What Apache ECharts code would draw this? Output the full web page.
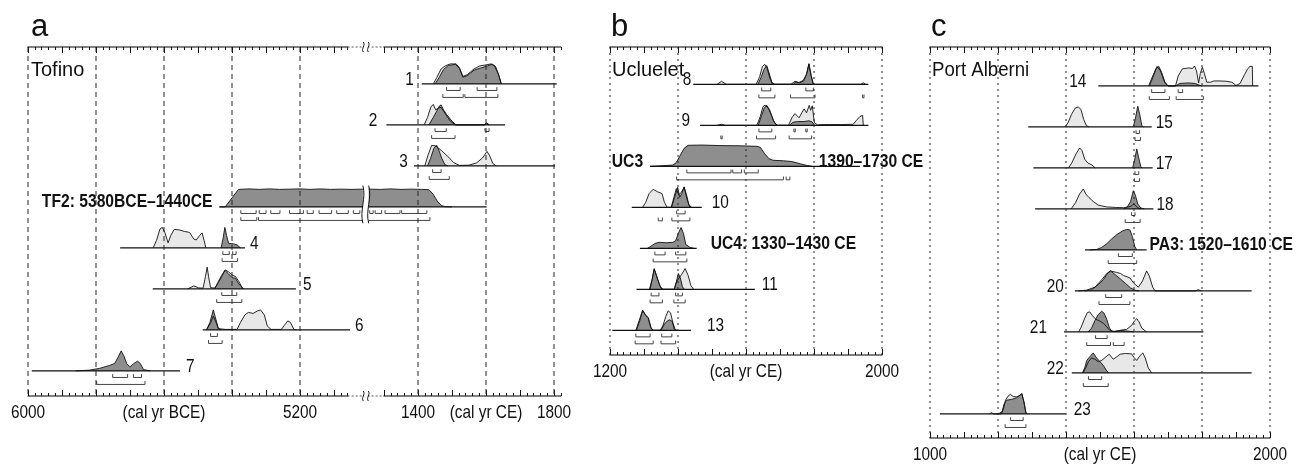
<!DOCTYPE html>
<html>
<head>
<meta charset="utf-8">
<title>Calibrated ages</title>
<script src="https://cdn.jsdelivr.net/npm/echarts@6/dist/echarts.min.js"></script>
<style>
html, body { margin: 0; padding: 0; background: #fff; }
#main { width: 1296px; height: 464px; }
</style>
</head>
<body>
<div id="main"></div>
<script>
// ---------- a: Tofino (BCE years are negative) ----------
const tofinoLeftLabels = ['1', '2', '3', 'TF2: 5380BCE–1440CE', '', '', '', ''];
const tofinoRightLabels = ['', '', '', '', '4', '5', '6', '7'];
const tofinoSpans = [[1411, 1808], [1307, 1656], [1388, 1803], [-5437, 1602],
  [-5729, -5362], [-5633, -5212], [-5486, -5053], [-5989, -5553]];
const tofinoLight = [
  [[1445,0],[1455,0.25],[1468,0.6],[1480,0.72],[1495,0.8],[1512,0.8],[1522,0.65],[1532,0.3],[1545,0.37],[1565,0.6],[1582,0.72],[1600,0.76],[1615,0.8],[1625,0.72],[1636,0.4],[1645,0]],
  [[1418,0],[1428,0.3],[1438,0.72],[1445,0.82],[1452,0.6],[1460,0.68],[1468,0.7],[1480,0.45],[1495,0.15],[1510,0],[1594,0],[1602,0.08],[1610,0]],
  [[1420,0],[1430,0.45],[1440,0.82],[1452,0.8],[1470,0.6],[1490,0.35],[1505,0.13],[1522,0.02],[1550,0.03],[1572,0.12],[1590,0.32],[1603,0.58],[1611,0.4],[1620,0.1],[1630,0]],
  [],
  [[-5632,0],[-5622,0.3],[-5612,0.75],[-5605,0.82],[-5597,0.6],[-5588,0.2],[-5580,0.5],[-5570,0.74],[-5555,0.72],[-5540,0.66],[-5525,0.62],[-5512,0.35],[-5505,0.32],[-5495,0.5],[-5488,0.6],[-5482,0.3],[-5477,0]],
  [[-5530,0],[-5512,0.12],[-5498,0.04],[-5485,0.03],[-5478,0.5],[-5473,0.87],[-5469,0.5],[-5463,0.05],[-5450,0.03],[-5440,0.3],[-5430,0.55],[-5420,0.76],[-5410,0.68],[-5400,0.55],[-5390,0.5],[-5380,0.3],[-5368,0]],
  [[-5475,0],[-5462,0.3],[-5455,0.55],[-5447,0.3],[-5440,0.05],[-5420,0.02],[-5385,0.02],[-5375,0.3],[-5362,0.6],[-5352,0.7],[-5338,0.66],[-5325,0.76],[-5316,0.8],[-5305,0.6],[-5296,0.15],[-5285,0.02],[-5255,0.02],[-5245,0.2],[-5236,0.36],[-5228,0.3],[-5218,0.02],[-5210,0]],
  []
];
const tofinoDark = [
  [[1450,0],[1462,0.25],[1475,0.58],[1490,0.74],[1510,0.78],[1522,0.62],[1532,0.27],[1545,0.33],[1565,0.55],[1585,0.64],[1605,0.72],[1618,0.79],[1628,0.7],[1637,0.38],[1645,0]],
  [[1432,0],[1445,0.3],[1455,0.55],[1463,0.76],[1468,0.8],[1475,0.6],[1485,0.4],[1500,0.15],[1512,0],[1596,0],[1602,0.06],[1608,0]],
  [[1428,0],[1437,0.3],[1447,0.72],[1455,0.82],[1462,0.6],[1470,0.3],[1479,0.05],[1488,0]],
  [[-5437,0],[-5420,0],[-5381,0.7],[-5350,0.72],[-5320,0.7],[-5290,0.72],[-5260,0.7],[-5230,0.71],[-5200,0.72],[-5170,0.7],[-5140,0.72],[-5110,0.7],[-5080,0.71],[-5050,0.7],[-5015,0.71],
   [1255,0.71],[1290,0.7],[1320,0.72],[1350,0.7],[1380,0.71],[1410,0.7],[1432,0.69],[1445,0.5],[1458,0.2],[1470,0.05],[1480,0.01],[1500,0]],
  [[-5432,0],[-5426,0.4],[-5421,0.82],[-5416,0.5],[-5410,0.18],[-5395,0.16],[-5385,0.12],[-5375,0]],
  [[-5452,0],[-5440,0.25],[-5430,0.5],[-5421,0.74],[-5410,0.6],[-5400,0.45],[-5390,0.43],[-5380,0.2],[-5366,0]],
  [[-5475,0],[-5465,0.3],[-5455,0.8],[-5447,0.4],[-5440,0.05],[-5432,0]],
  [[-5860,0],[-5820,0.03],[-5790,0.1],[-5760,0.22],[-5745,0.3],[-5735,0.55],[-5726,0.8],[-5718,0.6],[-5710,0.3],[-5700,0.16],[-5690,0.28],[-5678,0.39],[-5670,0.3],[-5660,0.05],[-5640,0]]
];
const tofinoHpd68 = [
  [[1484,1524],[1574,1632]], [[1450,1483],[1597,1609]], [[1443,1468]],
  [[-5374,-5329],[-5320,-5300],[-5286,-5259],[-5231,-5190],[-5179,-5161],[-5144,-5107],[-5092,-5058],[-5043,-5024],[1258,1268],[1274,1293],[1303,1347],[1352,1426]],
  [[-5427,-5408],[-5398,-5388]], [[-5430,-5386]], [[-5463,-5443]], [[-5751,-5707],[-5690,-5666]]
];
const tofinoHpd95 = [
  [[1473,1533],[1538,1635]], [[1440,1509]], [[1433,1492]],
  [[-5374,-5327],[-5322,1435]],
  [[-5429,-5384]], [[-5445,-5371]], [[-5469,-5429]], [[-5798,-5656]]
];
const tofinoBceTicks = [-6000, -5600, -5200];
const tofinoBceText = ['6000', '(cal yr BCE)', '5200'];
const tofinoCeTicks = [1400, 1600, 1800];
const tofinoCeText = ['1400', '(cal yr CE)', '1800'];
const tofinoBceGrid = [-6000, -5800, -5600, -5400, -5200];
const tofinoCeGrid = [1400, 1600, 1800];

// ---------- b: Ucluelet ----------
const ucLeftLabels = ['8', '9', 'UC3', '', '', '', ''];
const ucRightLabels = ['', '', '1390–1730 CE', '10', 'UC4: 1330–1430 CE', '11', '13'];
const ucSpans = [[1445, 1960], [1465, 1960], [1318, 1935], [1264, 1470], [1288, 1455], [1278, 1626], [1207, 1438]];
const ucLight = [
  [[1515,0],[1528,0.12],[1542,0],[1630,0],[1640,0.3],[1648,0.7],[1655,0.8],[1662,0.65],[1670,0.25],[1678,0],[1732,0],[1744,0.12],[1755,0.07],[1768,0.15],[1778,0.4],[1785,0.82],[1792,0.35],[1798,0],[1938,0],[1945,0.06],[1952,0]],
  [[1515,0],[1528,0.04],[1540,0],[1632,0],[1642,0.35],[1650,0.75],[1656,0.8],[1665,0.7],[1675,0.4],[1684,0.1],[1692,0],[1725,0],[1735,0.3],[1744,0.47],[1756,0.3],[1764,0.5],[1771,0.66],[1778,0.5],[1786,0.8],[1790,0.6],[1795,0.78],[1801,0.1],[1810,0.02],[1830,0.03],[1880,0.03],[1915,0.04],[1925,0.2],[1935,0.35],[1943,0.4],[1945,0]],
  [],
  [[1296,0],[1305,0.2],[1315,0.55],[1327,0.72],[1340,0.62],[1353,0.55],[1360,0.2],[1368,0],[1380,0],[1388,0.4],[1395,0.75],[1402,0.5],[1410,0.6],[1418,0.8],[1427,0.3],[1435,0]],
  [],
  [[1316,0],[1324,0.4],[1330,0.8],[1340,0.4],[1350,0.05],[1357,0],[1389,0],[1396,0.3],[1403,0.45],[1411,0.6],[1421,0.83],[1430,0.55],[1438,0.15],[1446,0]],
  [[1276,0],[1286,0.4],[1296,0.8],[1305,0.6],[1313,0.5],[1321,0.1],[1327,0],[1348,0],[1356,0.2],[1364,0.55],[1371,0.78],[1378,0.7],[1385,0.3],[1392,0.02],[1397,0]]
];
const ucDark = [
  [[1635,0],[1645,0.3],[1653,0.6],[1661,0.75],[1668,0.45],[1676,0.08],[1684,0],[1740,0],[1746,0.1],[1758,0.06],[1770,0.14],[1779,0.45],[1785,0.82],[1791,0.35],[1798,0]],
  [[1636,0],[1646,0.4],[1654,0.7],[1661,0.8],[1670,0.6],[1680,0.2],[1690,0],[1728,0],[1738,0.12],[1752,0.15],[1770,0.15],[1785,0.18],[1794,0.14],[1802,0]],
  [[1318,0],[1350,0.02],[1385,0.05],[1395,0.15],[1405,0.4],[1418,0.72],[1430,0.84],[1470,0.85],[1520,0.83],[1580,0.82],[1632,0.8],[1642,0.76],[1655,0.5],[1668,0.3],[1680,0.24],[1710,0.22],[1735,0.19],[1760,0.1],[1780,0.03],[1795,0]],
  [[1381,0],[1390,0.4],[1399,0.8],[1405,0.4],[1411,0.55],[1418,0.82],[1425,0.5],[1432,0.1],[1440,0]],
  [[1310,0],[1320,0.08],[1333,0.2],[1345,0.24],[1365,0.22],[1385,0.24],[1393,0.3],[1401,0.6],[1409,0.83],[1416,0.6],[1423,0.15],[1435,0.04],[1447,0]],
  [[1318,0],[1324,0.4],[1330,0.83],[1337,0.55],[1346,0.15],[1354,0],[1389,0],[1395,0.3],[1401,0.63],[1407,0.45],[1413,0.1],[1419,0]],
  [[1278,0],[1288,0.4],[1296,0.8],[1304,0.62],[1312,0.5],[1320,0.1],[1326,0],[1350,0],[1360,0.25],[1369,0.38],[1376,0.42],[1383,0.35],[1389,0.05],[1395,0]]
];
const ucHpd68 = [
  [[1646,1673],[1776,1798]], [[1638,1676],[1741,1745],[1776,1780]], [[1426,1556],[1561,1587],[1595,1636]],
  [[1396,1421]], [[1332,1362],[1393,1423]], [[1321,1344],[1393,1413]], [[1276,1318],[1352,1382]]
];
const ucHpd95 = [
  [[1638,1685],[1731,1803],[1943,1947]], [[1526,1530],[1631,1687],[1727,1793]], [[1396,1710],[1718,1729]],
  [[1342,1354],[1382,1435]], [[1327,1426]], [[1318,1354],[1388,1421]], [[1274,1327],[1350,1393]]
];
const ucTicks = [1200, 1600, 2000];
const ucTickText = ['1200', '(cal yr CE)', '2000'];
const ucGrid = [1200, 1400, 1600, 1800, 2000];

// ---------- c: Port Alberni ----------
const paLeftLabels = ['14', '', '', '', '', '20', '21', '22', ''];
const paRightLabels = ['', '15', '17', '18', 'PA3: 1520–1610 CE', '', '', '', '23'];
const paSpans = [[1495, 1966], [1289, 1652], [1304, 1655], [1309, 1657], [1456, 1637],
  [1426, 1946], [1394, 1804], [1417, 1946], [1029, 1399]];
const paLight = [
  [[1643,0],[1655,0.4],[1668,0.78],[1678,0.6],[1690,0.15],[1700,0],[1722,0],[1730,0.4],[1742,0.68],[1760,0.72],[1772,0.7],[1778,0.8],[1784,0.6],[1790,0.12],[1795,0.5],[1801,0.75],[1807,0.5],[1814,0.15],[1825,0.15],[1835,0.2],[1850,0.2],[1870,0.19],[1888,0.15],[1900,0.02],[1912,0.1],[1925,0.45],[1935,0.7],[1941,0.78],[1948,0.78],[1949,0]],
  [[1398,0],[1407,0.2],[1416,0.5],[1427,0.75],[1436,0.8],[1444,0.7],[1452,0.3],[1460,0.05],[1468,0]],
  [[1407,0],[1417,0.2],[1429,0.55],[1440,0.8],[1447,0.7],[1455,0.35],[1464,0.2],[1476,0.12],[1486,0]],
  [[1415,0],[1428,0.25],[1440,0.6],[1451,0.8],[1458,0.6],[1468,0.45],[1480,0.3],[1495,0.15],[1520,0.08],[1545,0.06],[1570,0.05],[1590,0.1],[1600,0.2],[1610,0.05],[1620,0]],
  [],
  [[1436,0],[1460,0.03],[1485,0.15],[1505,0.45],[1520,0.7],[1531,0.8],[1549,0.74],[1560,0.7],[1569,0.62],[1588,0.52],[1600,0.3],[1613,0.15],[1625,0.4],[1637,0.8],[1645,0.6],[1655,0.15],[1662,0],[1780,0],[1789,0.05],[1798,0]],
  [[1437,0],[1445,0.2],[1455,0.55],[1463,0.78],[1470,0.8],[1478,0.65],[1488,0.5],[1498,0.45],[1510,0.35],[1520,0.2],[1530,0.05],[1540,0.02],[1555,0.05],[1565,0.08],[1578,0.1],[1592,0.25],[1602,0.45],[1608,0.53],[1615,0.4],[1623,0.15],[1637,0]],
  [[1450,0],[1458,0.2],[1466,0.45],[1475,0.6],[1485,0.55],[1495,0.45],[1505,0.5],[1518,0.65],[1527,0.75],[1539,0.55],[1550,0.65],[1559,0.75],[1575,0.78],[1593,0.76],[1600,0.62],[1608,0.5],[1618,0.7],[1626,0.8],[1633,0.6],[1642,0.2],[1652,0]],
  [[1175,0],[1181,0.05],[1187,0],[1210,0],[1216,0.2],[1222,0.55],[1230,0.72],[1236,0.78],[1245,0.7],[1255,0.68],[1265,0.75],[1270,0.8],[1276,0.5],[1282,0.05],[1286,0]]
];
const paDark = [
  [[1645,0],[1656,0.35],[1665,0.7],[1673,0.78],[1681,0.55],[1691,0.15],[1700,0],[1722,0],[1735,0.1],[1760,0.12],[1780,0.1],[1792,0.03],[1800,0]],
  [[1598,0],[1605,0.4],[1611,0.83],[1617,0.5],[1623,0.05],[1628,0]],
  [[1596,0],[1603,0.4],[1608,0.76],[1614,0.4],[1620,0.05],[1624,0]],
  [[1570,0],[1580,0.08],[1590,0.3],[1598,0.73],[1604,0.55],[1611,0.2],[1620,0.04],[1630,0]],
  [[1470,0],[1490,0.02],[1505,0.1],[1520,0.25],[1535,0.45],[1550,0.62],[1565,0.75],[1578,0.82],[1588,0.8],[1596,0.5],[1602,0.15],[1608,0]],
  [[1455,0],[1475,0.05],[1495,0.25],[1510,0.45],[1522,0.7],[1531,0.8],[1545,0.65],[1560,0.48],[1575,0.3],[1590,0.12],[1605,0.02],[1615,0]],
  [[1465,0],[1475,0.15],[1485,0.45],[1495,0.7],[1505,0.83],[1512,0.75],[1520,0.5],[1528,0.15],[1535,0.03],[1545,0.02],[1560,0.06],[1575,0.04],[1590,0.02],[1600,0]],
  [[1448,0],[1455,0.2],[1461,0.5],[1470,0.65],[1480,0.8],[1490,0.6],[1500,0.45],[1510,0.3],[1518,0.12],[1525,0]],
  [[1195,0],[1205,0.03],[1212,0.1],[1218,0.4],[1225,0.55],[1240,0.58],[1255,0.65],[1265,0.75],[1270,0.82],[1276,0.5],[1282,0.05],[1286,0]]
];
const paHpd68 = [
  [[1652,1691],[1730,1743]], [[1606,1616]], [[1603,1614]], [[1593,1603]], [[1554,1595]],
  [[1517,1564]], [[1487,1521]], [[1466,1505]], [[1237,1274]]
];
const paHpd95 = [
  [[1645,1704],[1724,1804]], [[1603,1619]], [[1601,1616]], [[1574,1618]], [[1524,1608]],
  [[1497,1588]], [[1461,1531],[1539,1571]], [[1451,1524]], [[1221,1282]]
];
const paTicks = [1000, 1500, 2000];
const paTickText = ['1000', '(cal yr CE)', '2000'];
const paGrid = [1000, 1200, 1400, 1600, 1800, 2000];

// ---------- layout ----------
const SANS = '"Liberation Sans", Arial, sans-serif';
const INK = '#111';
const AXIS = '#555';
const LIGHT = '#e8e8e8';
const DARK = '#8e8e8e';
const NARROW_X = 0.81;        // horizontal squeeze for the condensed lettering
const BOLD_X = 0.87;
const H = 25 / 41;            // row units per unit of density
const HPD_Y = [0.16, 0.33];   // bracket levels below the baseline
const HPD_TICK = 0.08;
const LABEL_LIFT = 0.11;
const BREAK_L = -5015, BREAK_R = 1255;   // where TF2 is cut by the axis break
const LABEL_GAP = {'1': 8, '2': 9, '3': 6, '4': 5, '5': 7, '6': 5, '7': 6, '8': 2, '9': 10, '10': 10,
  'UC4: 1330–1430 CE': 14, '11': 7, '13': 16, '14': 12, '15': 4, '17': 3, '18': 3,
  'PA3: 1520–1610 CE': 3, '20': 11, '21': 17, '22': 8, '23': 8};

const GRIDS = [
  {left: 28, top: 47, width: 319.6, height: 349},
  {left: 384, top: 47, width: 176.8, height: 349},
  {left: 610, top: 47, width: 272, height: 308},
  {left: 930, top: 47, width: 340, height: 391}
];
const X_RANGE = [[-6000, -5060], [1300, 1820], [1200, 2000], [1000, 2000]];
const Y_MAX = [349 / 41, 349 / 41, 308 / 41, 391 / 41];
const TICKS = [[tofinoBceTicks, tofinoBceText], [tofinoCeTicks, tofinoCeText], [ucTicks, ucTickText], [paTicks, paTickText]];

const tofino = {offset: 0.9, left: tofinoLeftLabels, right: tofinoRightLabels, spans: tofinoSpans,
  light: tofinoLight, dark: tofinoDark, hpd68: tofinoHpd68, hpd95: tofinoHpd95, noteAt: {}};
const ucluelet = {offset: 0.91, left: ucLeftLabels, right: ucRightLabels, spans: ucSpans,
  light: ucLight, dark: ucDark, hpd68: ucHpd68, hpd95: ucHpd95, noteAt: {2: 1814}};
const portAlberni = {offset: 0.95, left: paLeftLabels, right: paRightLabels, spans: paSpans,
  light: paLight, dark: paDark, hpd68: paHpd68, hpd95: paHpd95, noteAt: {}};

function axesFor(g) {
  const [min, max] = X_RANGE[g];
  const major = [];
  for (let v = Math.ceil(min / 100) * 100; v <= max; v += 100) major.push(v);
  const base = {gridIndex: g, type: 'value', min: min, max: max, splitLine: {show: false}, axisLabel: {show: false}};
  const line = {show: true, onZero: false, lineStyle: {color: AXIS, width: 1.5}};
  const tickStyle = {color: INK, width: 1};
  return [
    Object.assign({}, base, {position: 'bottom', interval: 20, axisLine: line,
      axisTick: {inside: true, length: 3, lineStyle: tickStyle}}),
    Object.assign({}, base, {position: 'bottom', axisLine: {show: false, onZero: false},
      axisTick: {inside: true, length: 6, customValues: major, lineStyle: tickStyle}}),
    Object.assign({}, base, {position: 'top', interval: 20, axisLine: line,
      axisTick: {inside: true, length: 3, lineStyle: tickStyle}}),
    Object.assign({}, base, {position: 'top', axisLine: {show: false, onZero: false},
      axisTick: {inside: true, length: 6, customValues: major, lineStyle: tickStyle}})
  ];
}

// condensed text: drawn at its anchor, squeezed horizontally about it
function textEl(x, y, text, align, bold) {
  return {type: 'text', x: x, y: y, scaleX: bold ? BOLD_X : NARROW_X,
    style: {x: 0, y: 0, text: text, fill: INK,
      font: (bold ? 'bold 18px ' : '19px ') + SANS,
      align: align, verticalAlign: 'middle', textAlign: align, textVerticalAlign: 'middle'}};
}

function squiggle(x, ya, yb) {
  const h = yb - ya;
  return {type: 'bezierCurve', shape: {x1: x, y1: ya, x2: x, y2: yb,
    cpx1: x + 3.5, cpy1: ya + h * 0.35, cpx2: x - 3.5, cpy2: ya + h * 0.65},
    style: {stroke: INK, lineWidth: 1, fill: null}};
}

function rowSeries(p, g, side) {
  const idx = p.spans.map((s, i) => i).filter(i =>
    side === 'A' || (side === 'L' ? p.spans[i][0] < 0 : p.spans[i][1] > 0));
  return {
    type: 'custom', xAxisIndex: g * 4, yAxisIndex: g, z: 2, silent: true, clip: false,
    data: idx.map(i => [i, i]),
    renderItem: function (params, api) {
      const i = idx[params.dataIndex];
      const y0 = p.offset + i;
      const keep = x => side === 'A' || (side === 'L' ? x < 0 : x > 0);
      const pt = (x, y) => api.coord([x, y]);
      const baseY = pt(X_RANGE[g][0], y0)[1];
      const kids = [];
      const curve = pts => pts.filter(q => keep(q[0])).map(q => pt(q[0], y0 - q[1] * H));
      const area = (pts, fill) => {
        const c = curve(pts);
        if (c.length < 2) return;
        kids.push({type: 'polygon', shape: {points: [[c[0][0], baseY]].concat(c, [[c[c.length - 1][0], baseY]])},
          style: {fill: fill, stroke: null}});
      };
      const outline = pts => {
        const c = curve(pts);
        if (c.length < 2) return;
        kids.push({type: 'polyline', shape: {points: c}, style: {stroke: INK, lineWidth: 0.9, fill: null}});
      };
      area(p.light[i], LIGHT);
      area(p.dark[i], DARK);
      outline(p.light[i]);
      outline(p.dark[i]);

      // baseline, cut at the axis break where needed
      let s0 = p.spans[i][0], s1 = p.spans[i][1];
      if (side === 'L' && s1 > 0) s1 = BREAK_L;
      if (side === 'R' && s0 < 0) s0 = BREAK_R;
      kids.push({type: 'line', shape: {x1: pt(s0, y0)[0], y1: baseY, x2: pt(s1, y0)[0], y2: baseY},
        style: {stroke: INK, lineWidth: 1.3}});

      // 68% and 95% ranges
      [[p.hpd68[i], HPD_Y[0]], [p.hpd95[i], HPD_Y[1]]].forEach(([list, dy]) => {
        list.forEach(r => {
          let a = r[0], b = r[1], tl = true, tr = true;
          if (side === 'L') { if (a > 0) return; if (b > 0) { b = BREAK_L; tr = false; } }
          if (side === 'R') { if (b < 0) return; if (a < 0) { a = BREAK_R; tl = false; } }
          const y = pt(a, y0 + dy)[1], yt = pt(a, y0 + dy - HPD_TICK)[1];
          const xa = pt(a, y0)[0], xb = pt(b, y0)[0];
          const points = [];
          if (tl) points.push([xa, yt]);
          points.push([xa, y], [xb, y]);
          if (tr) points.push([xb, yt]);
          kids.push({type: 'polyline', shape: {points: points}, style: {stroke: '#444', lineWidth: 1, fill: null}});
        });
      });

      // break marks through TF2
      if (side === 'L' && p.spans[i][1] > 0)
        kids.push(squiggle(pt(BREAK_L, y0)[0], pt(s0, y0 - 0.52)[1], pt(s0, y0 + 0.4)[1]));
      if (side === 'R' && p.spans[i][0] < 0)
        kids.push(squiggle(pt(BREAK_R, y0)[0], pt(s1, y0 - 0.52)[1], pt(s1, y0 + 0.4)[1]));

      // row labels
      const lab = p.left[i];
      if (lab && keep(p.spans[i][0])) {
        const q = pt(p.spans[i][0], y0 - LABEL_LIFT);
        kids.push(textEl(q[0] - (LABEL_GAP[lab] || 7), q[1], lab, 'right', /[A-Z]/.test(lab)));
      }
      const rab = p.right[i];
      if (rab && keep(p.spans[i][1])) {
        const at = p.noteAt[i];
        const q = pt(at != null ? at : p.spans[i][1], y0 - LABEL_LIFT);
        kids.push(textEl(at != null ? q[0] : q[0] + (LABEL_GAP[rab] || 7), q[1], rab, 'left', /[A-Z]/.test(rab)));
      }
      return {type: 'group', children: kids};
    }
  };
}

function gridLineSeries(g, years, dash) {
  return {
    type: 'custom', xAxisIndex: g * 4, yAxisIndex: g, z: 5, silent: true,
    data: years.map(v => [v, 0]),
    renderItem: function (params, api) {
      const a = api.coord([api.value(0), 0]);
      const b = api.coord([api.value(0), Y_MAX[g]]);
      return {type: 'line', shape: {x1: a[0], y1: a[1], x2: b[0], y2: b[1]},
        style: {stroke: '#222', lineWidth: 1, lineDash: dash}};
    }
  };
}

// tick labels under the bottom axis, placed through the axis scale
function tickLabelSeries(g) {
  const [vals, text] = TICKS[g];
  return {
    type: 'custom', xAxisIndex: g * 4, yAxisIndex: g, z: 3, silent: true, clip: false,
    data: vals.map((v, k) => [v, k]),
    renderItem: function (params, api) {
      const q = api.coord([api.value(0), Y_MAX[g]]);
      return textEl(q[0], q[1] + 17, text[params.dataIndex], 'center', false);
    }
  };
}

const chart = echarts.init(document.getElementById('main'), null, {renderer: 'canvas'});
const option = {
  animation: false,
  backgroundColor: '#fff',
  grid: GRIDS,
  xAxis: [0, 1, 2, 3].map(axesFor).reduce((a, b) => a.concat(b), []),
  yAxis: Y_MAX.map((m, g) => ({gridIndex: g, type: 'value', min: 0, max: m, inverse: true, show: false})),
  series: [
    rowSeries(tofino, 0, 'L'),
    rowSeries(tofino, 1, 'R'),
    rowSeries(ucluelet, 2, 'A'),
    rowSeries(portAlberni, 3, 'A'),
    gridLineSeries(0, tofinoBceGrid, [5, 4]),
    gridLineSeries(1, tofinoCeGrid, [5, 4]),
    gridLineSeries(2, ucGrid, [2, 4]),
    gridLineSeries(3, paGrid, [2, 4]),
    tickLabelSeries(0), tickLabelSeries(1), tickLabelSeries(2), tickLabelSeries(3)
  ]
};
chart.setOption(option);

// panel letters, site names and the axis break of panel a
const xL = chart.convertToPixel({xAxisIndex: 0}, X_RANGE[0][1]);
const xR = chart.convertToPixel({xAxisIndex: 4}, X_RANGE[1][0]);
const xm = (chart.convertToPixel({xAxisIndex: 0}, BREAK_L) + chart.convertToPixel({xAxisIndex: 4}, BREAK_R)) / 2;
const yTop = chart.convertToPixel({yAxisIndex: 0}, 0);
const yBot = chart.convertToPixel({yAxisIndex: 0}, Y_MAX[0]);
const graphic = [];
[['a', 31], ['b', 611], ['c', 931]].forEach(([t, x]) => graphic.push({type: 'text', x: x, y: 27,
  style: {text: t, fill: INK, font: '31px ' + SANS, verticalAlign: 'middle', textVerticalAlign: 'middle'}}));
[['Tofino', 31], ['Ucluelet', 612], ['Port Alberni', 932]].forEach(([t, x]) => graphic.push({type: 'text', x: x, y: 70,
  scaleX: t === 'Port Alberni' ? 0.93 : 1,
  style: {text: t, fill: INK, font: '20px ' + SANS, verticalAlign: 'middle', textVerticalAlign: 'middle'}}));
[yTop, yBot].forEach(y => {
  graphic.push({type: 'line', shape: {x1: xL, y1: y, x2: xR, y2: y}, style: {stroke: AXIS, lineWidth: 1, lineDash: [2, 2]}, z: 10});
  graphic.push({type: 'rect', shape: {x: xm - 3, y: y - 2, width: 6, height: 4}, style: {fill: '#fff'}, z: 11});
  [-2.5, 2.5].forEach(d => graphic.push({type: 'bezierCurve', z: 12,
    shape: {x1: xm + d, y1: y - 5, x2: xm + d, y2: y + 5, cpx1: xm + d + 2.5, cpy1: y - 2, cpx2: xm + d - 2.5, cpy2: y + 2},
    style: {stroke: INK, lineWidth: 1, fill: null}}));
});
chart.setOption({graphic: graphic});
</script>
</body>
</html>
